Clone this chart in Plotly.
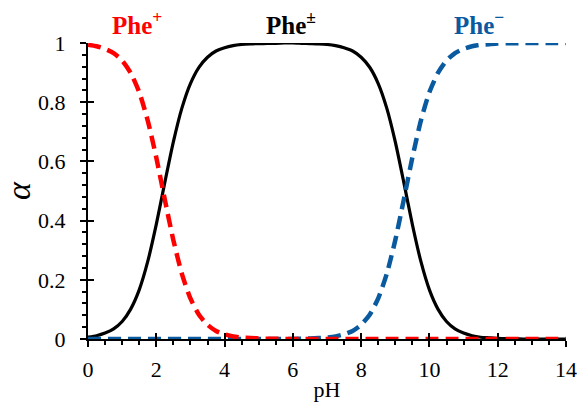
import plotly.graph_objects as go

ph = [i * 0.25 for i in range(57)]

phe_plus = [0.994, 0.989, 0.980, 0.966, 0.941, 0.899, 0.834, 0.738, 0.613, 0.471,
            0.334, 0.220, 0.137, 0.082, 0.048, 0.027, 0.016, 0.009, 0.005, 0.003,
            0.002, 0.001, 0.0005, 0.0003, 0.0002] + [0.0] * 32

phe_zw = [0.006, 0.011, 0.020, 0.034, 0.059, 0.101, 0.166, 0.262, 0.387, 0.529,
          0.666, 0.780, 0.863, 0.918, 0.952, 0.973, 0.984, 0.991, 0.995, 0.997,
          0.998, 0.999, 0.999, 1.000, 1.000,
          0.999, 0.998, 0.997, 0.995, 0.991, 0.984, 0.973, 0.952,
          0.918, 0.863, 0.780, 0.666, 0.529, 0.387, 0.262, 0.166,
          0.101, 0.059, 0.034, 0.020, 0.011, 0.006, 0.004, 0.002,
          0.001, 0.001, 0.0, 0.0, 0.0, 0.0, 0.0, 0.0]

phe_minus = [0.0] * 25 + [0.0009, 0.0016, 0.003, 0.005, 0.009, 0.016, 0.027, 0.048,
                          0.082, 0.137, 0.220, 0.334, 0.471, 0.613, 0.738, 0.834,
                          0.899, 0.941, 0.966, 0.980, 0.989, 0.994, 0.996, 0.998,
                          0.999, 0.999, 1.0, 1.0, 1.0, 1.0, 1.0, 1.0]

labels = ["<b>Phe<sup>+</sup></b>", "<b>Phe<sup>±</sup></b>", "<b>Phe<sup>−</sup></b>"]
label_x = [1.44, 5.95, 11.46]
label_colors = ["#ff0000", "#000000", "#0a5aa0"]

x_ticks = [0, 2, 4, 6, 8, 10, 12, 14]
y_ticks = [0, 0.2, 0.4, 0.6, 0.8, 1]
y_ticktext = ["0", "0.2", "0.4", "0.6", "0.8", "1"]

FONT = "Liberation Serif"

fig = go.Figure()
fig.add_trace(go.Scatter(x=ph, y=phe_zw, mode="lines",
                         line=dict(color="#000000", width=3.2, shape="spline", smoothing=0.6),
                         cliponaxis=False, showlegend=False))
fig.add_trace(go.Scatter(x=ph, y=phe_minus, mode="lines",
                         line=dict(color="#0a5aa0", width=4.5, dash="13px,7px", shape="spline", smoothing=0.6),
                         cliponaxis=False, showlegend=False))
fig.add_trace(go.Scatter(x=ph, y=phe_plus, mode="lines",
                         line=dict(color="#ff0000", width=4.5, dash="13px,7px", shape="spline", smoothing=0.6),
                         cliponaxis=False, showlegend=False))
fig.add_trace(go.Scatter(x=[None], y=[None], xaxis="x2", yaxis="y2",
                         showlegend=False, hoverinfo="skip"))

for t, xx, c in zip(labels, label_x, label_colors):
    fig.add_annotation(x=xx, y=1.0, xref="x", yref="paper", yshift=2, text=t,
                       showarrow=False, yanchor="bottom",
                       font=dict(family=FONT, size=25, color=c))

tick_font = dict(family=FONT, size=22, color="#000000")

fig.update_layout(
    width=577, height=408,
    font=dict(family=FONT, size=22, color="#000000"),
    margin=dict(l=88, r=11, t=43, b=69),
    paper_bgcolor="white", plot_bgcolor="white",
    xaxis=dict(range=[0, 14], tickmode="array", tickvals=x_ticks, automargin=False,
               showgrid=False, zeroline=False, showline=True, linecolor="#000", linewidth=2,
               ticks="outside", ticklen=6, tickwidth=2, tickcolor="#000", tickfont=tick_font,
               ticklabelstandoff=4,
               minor=dict(dtick=0.5, ticks="outside", ticklen=4, tickwidth=2, tickcolor="#000"),
               title=dict(text="pH", font=tick_font, standoff=0)),
    yaxis=dict(range=[0, 1], tickmode="array", tickvals=y_ticks, ticktext=y_ticktext, automargin=False,
               showgrid=False, zeroline=False, showline=True, linecolor="#000", linewidth=2,
               ticks="outside", ticklen=6, tickwidth=2, tickcolor="#000", tickfont=tick_font,
               ticklabelstandoff=10,
               minor=dict(dtick=0.04, ticks="outside", ticklen=4, tickwidth=2, tickcolor="#000"),
               title=dict(text="<i>α</i>", font=dict(family=FONT, size=34, color="#000"), standoff=8)),
    xaxis2=dict(range=[0, 14], overlaying="x", anchor="y2", tickmode="array", tickvals=x_ticks,
                ticks="inside", ticklen=6, tickwidth=2, tickcolor="#000", showticklabels=False,
                showgrid=False, zeroline=False, showline=False, automargin=False),
    yaxis2=dict(range=[0, 1], overlaying="y", anchor="x2", tickmode="array", tickvals=y_ticks,
                ticks="inside", ticklen=6, tickwidth=2, tickcolor="#000", showticklabels=False,
                showgrid=False, zeroline=False, showline=False, automargin=False),
)

fig.write_html("out.html")
